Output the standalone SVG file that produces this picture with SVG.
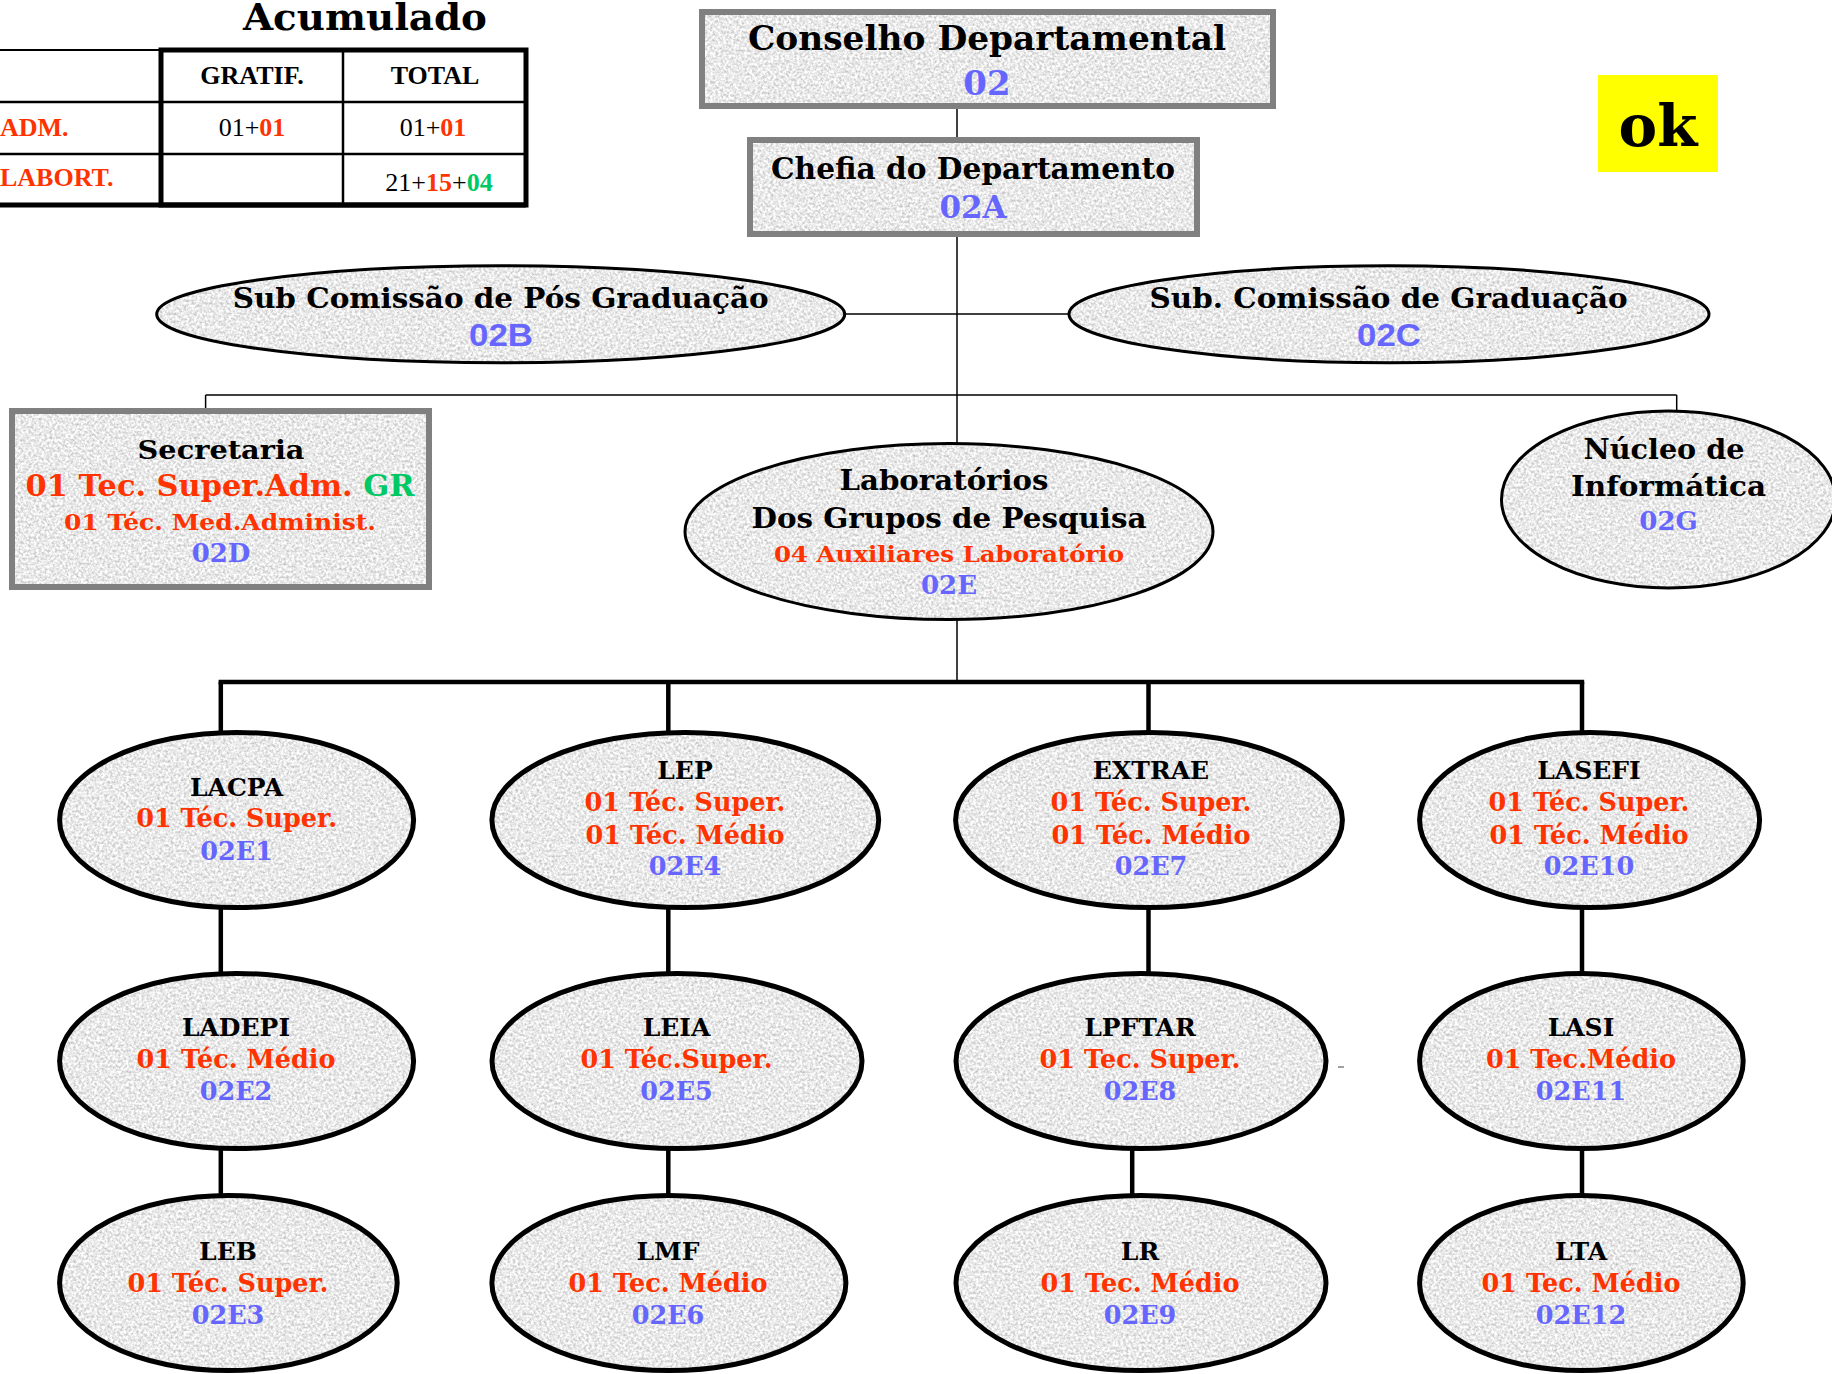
<svg xmlns="http://www.w3.org/2000/svg" width="1832" height="1374" viewBox="0 0 1832 1374">
<defs>
<filter id="granite" x="0" y="0" width="1" height="1" color-interpolation-filters="sRGB">
<feTurbulence type="fractalNoise" baseFrequency="0.38" numOctaves="3" seed="7" result="n"/>
<feColorMatrix in="n" type="matrix" values="0.45 0 0 0 0.69  0.45 0 0 0 0.69  0.45 0 0 0 0.69  0 0 0 0 1" result="g"/>
<feComposite in="g" in2="SourceGraphic" operator="in"/>
</filter>
<style>
.t{font-family:"DejaVu Serif","Liberation Serif",serif;font-weight:bold;text-anchor:middle}
.s{font-family:"Liberation Sans",Arial,sans-serif;font-weight:bold;text-anchor:middle}
.tx{font-family:"Liberation Serif","Times New Roman",serif;font-size:26px}
.k{fill:#000}.r{fill:#FF3300}.b{fill:#6666FF}.g{fill:#00C864}
.tex{fill:#e8e8e8;filter:url(#granite)}
.bx{fill:none;stroke:#808080;stroke-width:6}
.el{fill:none;stroke:#000;stroke-width:3}
.elk{fill:none;stroke:#000;stroke-width:5}
.ln{stroke:#000;stroke-width:1.5;fill:none}
.lk{stroke:#000;stroke-width:4.5;fill:none}
.n1{font-size:25px}
.n2{font-size:25.5px}
</style>
</defs>
<rect width="1832" height="1374" fill="#fff"/>

<!-- Acumulado table -->
<g id="tabela">
<text class="t k" x="365" y="30" font-size="37" textLength="244" lengthAdjust="spacingAndGlyphs">Acumulado</text>
<line x1="0" y1="50" x2="161" y2="50" stroke="#000" stroke-width="2"/>
<line x1="0" y1="102" x2="526" y2="102" stroke="#000" stroke-width="2.5"/>
<line x1="0" y1="154" x2="526" y2="154" stroke="#000" stroke-width="2.5"/>
<line x1="343" y1="50" x2="343" y2="205" stroke="#000" stroke-width="2.5"/>
<rect x="161" y="50" width="365" height="155" fill="none" stroke="#000" stroke-width="5"/>
<line x1="0" y1="205" x2="526" y2="205" stroke="#000" stroke-width="5"/>
<text class="tx" x="252" y="84" text-anchor="middle" font-weight="bold">GRATIF.</text>
<text class="tx" x="435" y="84" text-anchor="middle" font-weight="bold">TOTAL</text>
<text class="tx r" x="0" y="136" font-weight="bold">ADM.</text>
<text class="tx r" x="0" y="186" font-weight="bold">LABORT.</text>
<text class="tx" x="252" y="136" text-anchor="middle">01+<tspan class="r" font-weight="bold">01</tspan></text>
<text class="tx" x="433" y="136" text-anchor="middle">01+<tspan class="r" font-weight="bold">01</tspan></text>
<text class="tx" x="439" y="191" text-anchor="middle">21+<tspan class="r" font-weight="bold">15</tspan>+<tspan class="g" font-weight="bold">04</tspan></text>
</g>

<g id="ok">
<rect x="1598" y="75" width="120" height="97" fill="#FFFF00"/>
<text class="t k" x="1658" y="146" font-size="58">ok</text>
</g>

<!-- connectors -->
<g id="connectors">
<line class="ln" x1="957" y1="109" x2="957" y2="138"/>
<line class="ln" x1="957" y1="236" x2="957" y2="444"/>
<line class="ln" x1="845" y1="314" x2="1069" y2="314"/>
<line class="ln" x1="205.6" y1="395" x2="1676.7" y2="395"/>
<line class="ln" x1="205.6" y1="395" x2="205.6" y2="409"/>
<line class="ln" x1="1676.7" y1="395" x2="1676.7" y2="411"/>
<line class="ln" x1="957" y1="619" x2="957" y2="682"/>
<line class="lk" x1="218.6" y1="682" x2="1584.2" y2="682"/>
<line class="lk" x1="220.8" y1="682" x2="220.8" y2="733"/>
<line class="lk" x1="668.3" y1="682" x2="668.3" y2="733"/>
<line class="lk" x1="1148.5" y1="682" x2="1148.5" y2="733"/>
<line class="lk" x1="1582" y1="682" x2="1582" y2="733"/>
<line class="lk" x1="220.8" y1="907" x2="220.8" y2="974"/>
<line class="lk" x1="668.3" y1="907" x2="668.3" y2="974"/>
<line class="lk" x1="1148.5" y1="907" x2="1148.5" y2="974"/>
<line class="lk" x1="1582" y1="907" x2="1582" y2="974"/>
<line class="lk" x1="220.8" y1="1148" x2="220.8" y2="1196"/>
<line class="lk" x1="668.3" y1="1148" x2="668.3" y2="1196"/>
<line class="lk" x1="1132.2" y1="1148" x2="1132.2" y2="1196"/>
<line class="lk" x1="1582" y1="1148" x2="1582" y2="1196"/>
</g>

<g id="conselho">
<rect class="tex" x="702" y="12" width="571" height="94"/>
<rect class="bx" x="702" y="12" width="571" height="94"/>
<text class="t k" x="987" y="50" font-size="33" textLength="478" lengthAdjust="spacingAndGlyphs">Conselho Departamental</text>
<text class="t b" x="987" y="95" font-size="34">02</text>
</g>

<g id="chefia">
<rect class="tex" x="750" y="140" width="447" height="94"/>
<rect class="bx" x="750" y="140" width="447" height="94"/>
<text class="t k" x="973" y="179" font-size="30" textLength="404" lengthAdjust="spacingAndGlyphs">Chefia do Departamento</text>
<text class="t b" x="973" y="218" font-size="31">02A</text>
</g>

<g id="subpos">
<ellipse class="tex" cx="500.7" cy="314.3" rx="344" ry="48.5"/>
<ellipse class="el" cx="500.7" cy="314.3" rx="344" ry="48.5"/>
<text class="t k" x="500.7" y="308" font-size="28" textLength="536" lengthAdjust="spacingAndGlyphs">Sub Comissão de Pós Graduação</text>
<text class="s b" x="501" y="346" font-size="31" textLength="64" lengthAdjust="spacingAndGlyphs">02B</text>
</g>

<g id="subgrad">
<ellipse class="tex" cx="1389" cy="314.3" rx="320" ry="48.5"/>
<ellipse class="el" cx="1389" cy="314.3" rx="320" ry="48.5"/>
<text class="t k" x="1388.6" y="308" font-size="28" textLength="478" lengthAdjust="spacingAndGlyphs">Sub. Comissão de Graduação</text>
<text class="s b" x="1389" y="346" font-size="31" textLength="64" lengthAdjust="spacingAndGlyphs">02C</text>
</g>

<g id="secretaria">
<rect class="tex" x="12" y="411" width="417" height="176"/>
<rect class="bx" x="12" y="411" width="417" height="176"/>
<text class="t k" x="221" y="459" font-size="26" textLength="167" lengthAdjust="spacingAndGlyphs">Secretaria</text>
<text class="t r" x="220" y="496" font-size="29" textLength="389" lengthAdjust="spacingAndGlyphs">01 Tec. Super.Adm. <tspan class="g">GR</tspan></text>
<text class="t r" x="220" y="530" font-size="23" textLength="312" lengthAdjust="spacingAndGlyphs">01 Téc. Med.Administ.</text>
<text class="t b" x="221" y="562" font-size="26">02D</text>
</g>

<g id="laboratorios">
<ellipse class="tex" cx="949" cy="531.6" rx="264" ry="88"/>
<ellipse class="el" cx="949" cy="531.6" rx="264" ry="88"/>
<text class="t k" x="944" y="490" font-size="27" textLength="209" lengthAdjust="spacingAndGlyphs">Laboratórios</text>
<text class="t k" x="949" y="528" font-size="27" textLength="395" lengthAdjust="spacingAndGlyphs">Dos Grupos de Pesquisa</text>
<text class="t r" x="949" y="562" font-size="22" textLength="350" lengthAdjust="spacingAndGlyphs">04 Auxiliares Laboratório</text>
<text class="t b" x="949" y="594" font-size="26">02E</text>
</g>

<g id="nucleo">
<ellipse class="tex" cx="1668.5" cy="499.5" rx="167" ry="88.5"/>
<ellipse class="el" cx="1668.5" cy="499.5" rx="167" ry="88.5"/>
<text class="t k" x="1664" y="459" font-size="27" textLength="161" lengthAdjust="spacingAndGlyphs">Núcleo de</text>
<text class="t k" x="1668.5" y="496" font-size="27" textLength="195" lengthAdjust="spacingAndGlyphs">Informática</text>
<text class="t b" x="1668.5" y="530" font-size="26">02G</text>
</g>

<!-- Row 1 -->
<g id="lacpa">
<ellipse class="tex" cx="236.6" cy="820" rx="177" ry="87.6"/>
<ellipse class="elk" cx="236.6" cy="820" rx="177" ry="87.6"/>
<text class="t k n1" x="236.6" y="796">LACPA</text>
<text class="t r n2" x="236.6" y="827">01 Téc. Super.</text>
<text class="t b n2" x="236.6" y="860">02E1</text>
</g>
<g id="lep">
<ellipse class="tex" cx="685.3" cy="820" rx="193.4" ry="87.6"/>
<ellipse class="elk" cx="685.3" cy="820" rx="193.4" ry="87.6"/>
<text class="t k n1" x="685" y="779">LEP</text>
<text class="t r n2" x="685" y="811">01 Téc. Super.</text>
<text class="t r n2" x="685" y="843.6">01 Téc. Médio</text>
<text class="t b n2" x="685" y="875">02E4</text>
</g>
<g id="extrae">
<ellipse class="tex" cx="1149" cy="820" rx="193.4" ry="87.6"/>
<ellipse class="elk" cx="1149" cy="820" rx="193.4" ry="87.6"/>
<text class="t k n1" x="1151" y="779">EXTRAE</text>
<text class="t r n2" x="1151" y="811">01 Téc. Super.</text>
<text class="t r n2" x="1151" y="843.6">01 Téc. Médio</text>
<text class="t b n2" x="1151" y="875">02E7</text>
</g>
<g id="lasefi">
<ellipse class="tex" cx="1589.6" cy="820" rx="170" ry="87.6"/>
<ellipse class="elk" cx="1589.6" cy="820" rx="170" ry="87.6"/>
<text class="t k n1" x="1589" y="779">LASEFI</text>
<text class="t r n2" x="1589" y="811">01 Téc. Super.</text>
<text class="t r n2" x="1589" y="843.6">01 Téc. Médio</text>
<text class="t b n2" x="1589" y="875">02E10</text>
</g>

<!-- Row 2 -->
<g id="ladepi">
<ellipse class="tex" cx="236.6" cy="1061" rx="177" ry="87.6"/>
<ellipse class="elk" cx="236.6" cy="1061" rx="177" ry="87.6"/>
<text class="t k n1" x="236" y="1036">LADEPI</text>
<text class="t r n2" x="236" y="1068">01 Téc. Médio</text>
<text class="t b n2" x="236" y="1099.5">02E2</text>
</g>
<g id="leia">
<ellipse class="tex" cx="677" cy="1061" rx="185" ry="87.6"/>
<ellipse class="elk" cx="677" cy="1061" rx="185" ry="87.6"/>
<text class="t k n1" x="676.5" y="1036">LEIA</text>
<text class="t r n2" x="676.5" y="1068">01 Téc.Super.</text>
<text class="t b n2" x="676.5" y="1099.5">02E5</text>
</g>
<g id="lpftar">
<ellipse class="tex" cx="1141" cy="1061" rx="185" ry="87.6"/>
<ellipse class="elk" cx="1141" cy="1061" rx="185" ry="87.6"/>
<text class="t k n1" x="1140" y="1036">LPFTAR</text>
<text class="t r n2" x="1140" y="1068">01 Tec. Super.</text>
<text class="t b n2" x="1140" y="1099.5">02E8</text>
</g>
<g id="lasi">
<ellipse class="tex" cx="1581.4" cy="1061" rx="161.8" ry="87.6"/>
<ellipse class="elk" cx="1581.4" cy="1061" rx="161.8" ry="87.6"/>
<text class="t k n1" x="1581" y="1036">LASI</text>
<text class="t r n2" x="1581" y="1068">01 Tec.Médio</text>
<text class="t b n2" x="1581" y="1099.5">02E11</text>
</g>

<!-- Row 3 -->
<g id="leb">
<ellipse class="tex" cx="228.4" cy="1283" rx="168.8" ry="87.6"/>
<ellipse class="elk" cx="228.4" cy="1283" rx="168.8" ry="87.6"/>
<text class="t k n1" x="228" y="1259.5">LEB</text>
<text class="t r n2" x="228" y="1292">01 Téc. Super.</text>
<text class="t b n2" x="228" y="1323.8">02E3</text>
</g>
<g id="lmf">
<ellipse class="tex" cx="668.9" cy="1283" rx="177" ry="87.6"/>
<ellipse class="elk" cx="668.9" cy="1283" rx="177" ry="87.6"/>
<text class="t k n1" x="668" y="1259.5">LMF</text>
<text class="t r n2" x="668" y="1292">01 Tec. Médio</text>
<text class="t b n2" x="668" y="1323.8">02E6</text>
</g>
<g id="lr">
<ellipse class="tex" cx="1141" cy="1283" rx="185" ry="87.6"/>
<ellipse class="elk" cx="1141" cy="1283" rx="185" ry="87.6"/>
<text class="t k n1" x="1140" y="1259.5">LR</text>
<text class="t r n2" x="1140" y="1292">01 Tec. Médio</text>
<text class="t b n2" x="1140" y="1323.8">02E9</text>
</g>
<g id="lta">
<ellipse class="tex" cx="1581.4" cy="1283" rx="161.8" ry="87.6"/>
<ellipse class="elk" cx="1581.4" cy="1283" rx="161.8" ry="87.6"/>
<text class="t k n1" x="1581" y="1259.5">LTA</text>
<text class="t r n2" x="1581" y="1292">01 Tec. Médio</text>
<text class="t b n2" x="1581" y="1323.8">02E12</text>
</g>

<line x1="1338" y1="1067" x2="1344" y2="1067" stroke="#808080" stroke-width="1.5"/>
</svg>
